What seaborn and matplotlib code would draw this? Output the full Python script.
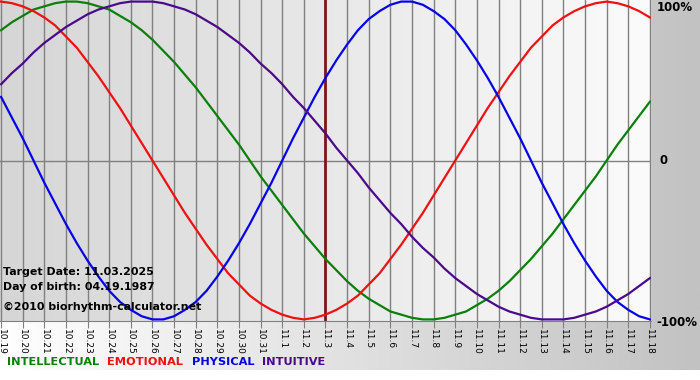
import numpy as np
import pandas as pd
import seaborn as sns
import matplotlib.pyplot as plt
from matplotlib.colors import LinearSegmentedColormap

day_labels = ['10.19', '10.20', '10.21', '10.22', '10.23', '10.24', '10.25', '10.26',
              '10.27', '10.28', '10.29', '10.30', '10.31', '11.1', '11.2', '11.3',
              '11.4', '11.5', '11.6', '11.7', '11.8', '11.9', '11.10', '11.11',
              '11.12', '11.13', '11.14', '11.15', '11.16', '11.17', '11.18']
target_label = '11.3'

# values (-1 .. 1), every half day from 10.19 to 11.18
intellectual = [0.82, 0.87, 0.91, 0.95, 0.97, 0.99, 1.00, 1.00, 0.99, 0.97,
                0.95, 0.91, 0.87, 0.82, 0.76, 0.69, 0.62, 0.54, 0.46, 0.37,
                0.28, 0.19, 0.10, 0.00, -0.10, -0.19, -0.28, -0.37, -0.46, -0.54,
                -0.62, -0.69, -0.76, -0.82, -0.87, -0.91, -0.95, -0.97, -0.99, -1.00,
                -1.00, -0.99, -0.97, -0.95, -0.91, -0.87, -0.82, -0.76, -0.69, -0.62,
                -0.54, -0.46, -0.37, -0.28, -0.19, -0.10, 0.00, 0.10, 0.19, 0.28,
                0.37]
emotional = [1.00, 0.99, 0.97, 0.94, 0.90, 0.85, 0.78, 0.71, 0.62, 0.53,
             0.43, 0.33, 0.22, 0.11, 0.00, -0.11, -0.22, -0.33, -0.43, -0.53,
             -0.62, -0.71, -0.78, -0.85, -0.90, -0.94, -0.97, -0.99, -1.00, -0.99,
             -0.97, -0.94, -0.90, -0.85, -0.78, -0.71, -0.62, -0.53, -0.43, -0.33,
             -0.22, -0.11, 0.00, 0.11, 0.22, 0.33, 0.43, 0.53, 0.62, 0.71,
             0.78, 0.85, 0.90, 0.94, 0.97, 0.99, 1.00, 0.99, 0.97, 0.94,
             0.90]
physical = [0.40, 0.27, 0.14, 0.00, -0.14, -0.27, -0.40, -0.52, -0.63, -0.73,
            -0.82, -0.89, -0.94, -0.98, -1.00, -1.00, -0.98, -0.94, -0.89, -0.82,
            -0.73, -0.63, -0.52, -0.40, -0.27, -0.14, 0.00, 0.14, 0.27, 0.40,
            0.52, 0.63, 0.73, 0.82, 0.89, 0.94, 0.98, 1.00, 1.00, 0.98,
            0.94, 0.89, 0.82, 0.73, 0.63, 0.52, 0.40, 0.27, 0.14, 0.00,
            -0.14, -0.27, -0.40, -0.52, -0.63, -0.73, -0.82, -0.89, -0.94, -0.98,
            -1.00]
intuitive = [0.48, 0.55, 0.61, 0.68, 0.74, 0.79, 0.84, 0.88, 0.92, 0.95,
             0.97, 0.99, 1.00, 1.00, 1.00, 0.99, 0.97, 0.95, 0.92, 0.88,
             0.84, 0.79, 0.74, 0.68, 0.61, 0.55, 0.48, 0.40, 0.33, 0.25,
             0.17, 0.08, 0.00, -0.08, -0.17, -0.25, -0.33, -0.40, -0.48, -0.55,
             -0.61, -0.68, -0.74, -0.79, -0.84, -0.88, -0.92, -0.95, -0.97, -0.99,
             -1.00, -1.00, -1.00, -0.99, -0.97, -0.95, -0.92, -0.88, -0.84, -0.79,
             -0.74]

rhythms = {'INTELLECTUAL': intellectual, 'EMOTIONAL': emotional,
           'PHYSICAL': physical, 'INTUITIVE': intuitive}
colors = {'INTELLECTUAL': '#0a800a', 'EMOTIONAL': '#ee1111',
          'PHYSICAL': '#0505e6', 'INTUITIVE': '#4b0a8a'}

frame = pd.DataFrame([
    {'day': i / 2, 'rhythm': name, 'value': v}
    for name, values in rhythms.items()
    for i, v in enumerate(values)
])

plt.rcParams['font.family'] = ['DejaVu Sans']

fig = plt.figure(figsize=(7, 3.8), dpi=100)
fig.patch.set_facecolor('white')

# outer background, white to gray left to right
bg = fig.add_axes([0, 10 / 380, 1, 370 / 380])
outer = LinearSegmentedColormap.from_list('outer', ['#ffffff', '#c2c2c2'])
bg.imshow(np.linspace(0, 1, 256).reshape(1, -1), cmap=outer, aspect='auto', extent=[0, 1, 0, 1])
bg.axis('off')

ax = fig.add_axes([0, 59 / 380, 651 / 700, 321 / 380])
inner = LinearSegmentedColormap.from_list('inner', ['#d6d6d6', '#fbfbfb'])
ax.imshow(np.linspace(0, 1, 256).reshape(1, -1), cmap=inner, aspect='auto',
          extent=[0, 1, 0, 1], transform=ax.transAxes, zorder=0)

ax.set_xlim(-0.05, 30.05)
ax.set_ylim(-1.01, 1.01)

ax.grid(axis='x', color='#808080', lw=1, zorder=1)
ax.axhline(0, color='#808080', lw=1, zorder=1)
ax.axvline(day_labels.index(target_label), color='#7a1818', lw=2, zorder=2)

sns.lineplot(data=frame, x='day', y='value', hue='rhythm', palette=colors,
             linewidth=1.6, legend=False, ax=ax, zorder=3)

for side in ['top', 'right', 'left']:
    ax.spines[side].set_visible(False)
ax.spines['bottom'].set_color('#808080')
ax.set_xticks(range(len(day_labels)))
ax.set_xticklabels(day_labels, rotation=270, fontsize=6.5)
ax.tick_params(axis='x', length=5, color='#808080', pad=1)
ax.set_yticks([])
ax.set_xlabel('')
ax.set_ylabel('')

ax.text(30.32, 0.965, '100%', fontsize=8.5, fontweight='bold', va='center', clip_on=False)
ax.text(30.42, 0.0, '0', fontsize=8.5, fontweight='bold', va='center', clip_on=False)
ax.text(30.32, -1.02, '-100%', fontsize=8.5, fontweight='bold', va='center', clip_on=False)

fig.text(3 / 700, 1 - 272 / 380, 'Target Date: 11.03.2025', fontsize=7.9, fontweight='bold', va='center')
fig.text(3 / 700, 1 - 287 / 380, 'Day of birth: 04.19.1987', fontsize=7.9, fontweight='bold', va='center')
fig.text(3 / 700, 1 - 307 / 380, '\u00a92010 biorhythm-calculator.net', fontsize=7.9, fontweight='bold', va='center')

legend_x = {'INTELLECTUAL': 7, 'EMOTIONAL': 107, 'PHYSICAL': 192, 'INTUITIVE': 262}
for name, px in legend_x.items():
    fig.text(px / 700, 1 - 362 / 380, name, color=colors[name], fontsize=8.2,
             fontweight='bold', va='center')

fig.savefig('out.png', dpi=100)
